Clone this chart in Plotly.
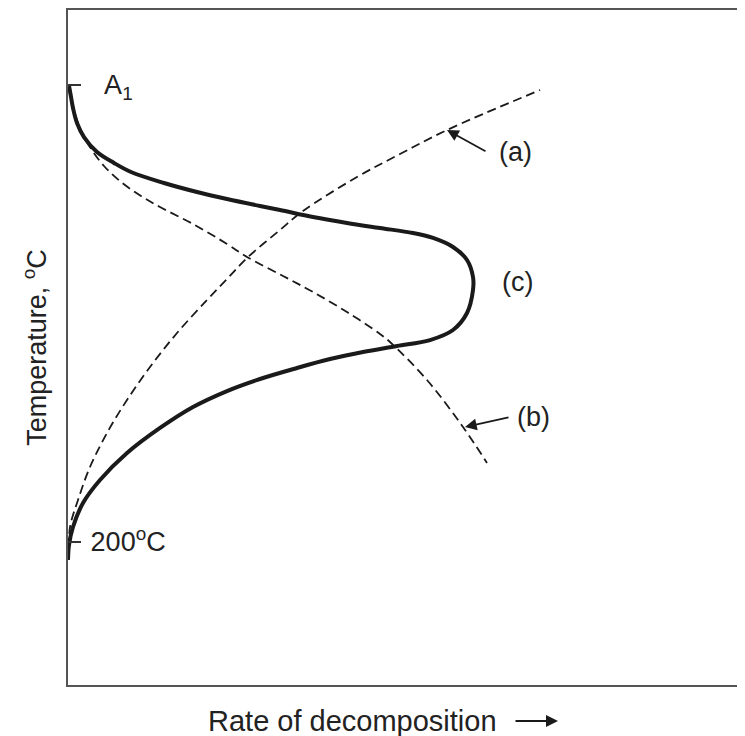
import plotly.graph_objects as go

# ---- data (rate in arbitrary units, temperature in deg C) ----
c_rate = [0.2, 0.6, 1.0, 1.8, 3.2, 5.8, 9.2, 12.6, 19.2, 25.8, 31.8, 38.4, 42.4, 49.0, 55.8, 62.4,
          69.0, 73.0, 77.0, 79.8, 81.0, 81.0, 79.8, 77.0, 72.4, 65.8, 59.0, 52.4, 45.8, 38.4, 31.8,
          25.0, 18.4, 11.8, 6.4, 3.0, 1.0, 0.2, 0.0]
c_temp = [725.9, 713.2, 700.5, 683.2, 667.0, 649.7, 637.1, 626.7, 614.0, 603.6, 595.5, 587.5, 582.9,
          574.8, 567.9, 562.1, 556.3, 550.6, 540.2, 525.2, 505.6, 490.6, 464.1, 444.5, 432.9, 426.0,
          419.1, 411.0, 400.7, 388.0, 374.1, 355.7, 331.5, 302.6, 271.5, 245.0, 217.3, 196.5, 179.2]

a_rate = [0.2, 0.4, 2.0, 4.4, 7.8, 11.8, 16.4, 21.8, 27.8, 31.8, 35.8, 42.4, 47.0, 57.8, 66.4, 75.8, 94.4]
a_temp = [193.1, 217.3, 248.4, 286.5, 325.7, 363.8, 401.8, 441.0, 479.1, 503.3, 527.5, 559.8, 581.7,
          620.9, 647.4, 675.1, 721.2]

b_rate = [0.4, 1.2, 2.4, 4.4, 7.2, 10.6, 14.6, 18.4, 25.0, 31.8, 35.8, 43.0, 49.0, 55.8, 62.4, 64.4,
          71.8, 79.0, 83.8]
b_temp = [723.6, 698.2, 677.4, 655.5, 633.6, 615.2, 599.0, 586.3, 566.7, 543.7, 528.7, 506.8, 488.3,
          465.2, 439.9, 430.6, 386.8, 332.6, 291.1]

tick_vals = [200, 727]
tick_text = ["200<sup>o</sup>C", "  A<sub>1</sub>"]

curve_labels = ["(a)", "(b)", "(c)"]
label_rate = [85.8, 89.4, 86.4]
label_temp = [649.7, 344.2, 499.8]

arrow_tip_rate = [75.8, 79.4]
arrow_tip_temp = [675.1, 332.6]
arrow_tail_rate = [83.8, 88.4]
arrow_tail_temp = [649.7, 344.2]

x_range = [0, 135.4]
y_range = [35.1, 813.5]

FONT = "Liberation Sans, Arial, Helvetica, sans-serif"
TXT = "#222222"
INK = "#1a1a1a"

fig = go.Figure()
fig.add_trace(go.Scatter(x=a_rate, y=a_temp, mode="lines",
                         line=dict(color=INK, width=1.8, dash="9px,5px", shape="spline", smoothing=1.0),
                         hoverinfo="skip", showlegend=False))
fig.add_trace(go.Scatter(x=b_rate, y=b_temp, mode="lines",
                         line=dict(color=INK, width=1.8, dash="9px,5px", shape="spline", smoothing=1.0),
                         hoverinfo="skip", showlegend=False))
fig.add_trace(go.Scatter(x=c_rate, y=c_temp, mode="lines",
                         line=dict(color=INK, width=4, shape="spline", smoothing=1.0),
                         hoverinfo="skip", showlegend=False))

annotations = []
for t, xr, yt in zip(curve_labels, label_rate, label_temp):
    annotations.append(dict(x=xr, y=yt, xref="x", yref="y", text=t, showarrow=False,
                            xanchor="left", yanchor="middle",
                            font=dict(family=FONT, size=27, color=TXT)))
for xt, yt, xa, ya in zip(arrow_tip_rate, arrow_tip_temp, arrow_tail_rate, arrow_tail_temp):
    annotations.append(dict(x=xt, y=yt, xref="x", yref="y", ax=xa, ay=ya, axref="x", ayref="y",
                            text="", showarrow=True, arrowhead=2, arrowsize=1.3, arrowwidth=1.8,
                            arrowcolor=INK))
# x-axis title and direction arrow
annotations.append(dict(x=0.4195, y=-0.0533, xref="paper", yref="paper", text="Rate of decomposition",
                        showarrow=False, xanchor="center", yanchor="middle",
                        font=dict(family=FONT, size=29, color=TXT)))
annotations.append(dict(x=0.7238, y=-0.0533, xref="paper", yref="paper", ax=-44, ay=0, text="",
                        showarrow=True, arrowhead=2, arrowsize=1.2, arrowwidth=2, arrowcolor=INK))

fig.update_layout(
    width=737, height=728,
    margin=dict(l=60, r=0, t=2, b=51),
    paper_bgcolor="white", plot_bgcolor="white",
    font=dict(family=FONT, size=27, color=TXT),
    annotations=annotations,
    xaxis=dict(range=x_range, showline=True, mirror=True, linecolor="#555555", linewidth=2,
               showgrid=False, zeroline=False, showticklabels=False, ticks=""),
    yaxis=dict(range=y_range, showline=True, mirror=False, linecolor="#555555", linewidth=2,
               showgrid=False, zeroline=False, ticks="inside", ticklen=13, tickwidth=2,
               tickcolor="#333333", tickvals=tick_vals, ticktext=tick_text,
               ticklabelposition="inside", ticklabelstandoff=12,
               tickfont=dict(family=FONT, size=27, color=TXT),
               title=dict(text="Temperature, <sup>o</sup>C", standoff=36,
                          font=dict(family=FONT, size=27, color=TXT))),
)

fig.write_html("out.html")
